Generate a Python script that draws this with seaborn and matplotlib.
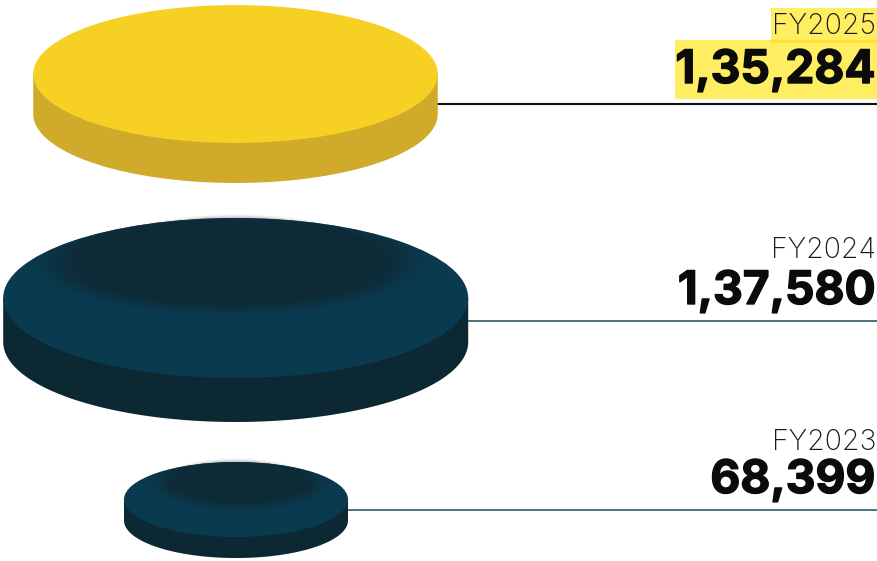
#!/usr/bin/env python3
import matplotlib

matplotlib.use("Agg")
import matplotlib.patheffects as pe
import matplotlib.pyplot as plt
import numpy as np
import pandas as pd
import seaborn as sns
from matplotlib.patches import Ellipse, Polygon, Rectangle

# data, top to bottom as in the picture
years = ["FY2025", "FY2024", "FY2023"]
values = [135284, 137580, 68399]
value_labels = ["1,35,284", "1,37,580", "68,399"]

# layout (pixels, y down)
WIDTH, HEIGHT = 877, 561
px_per_unit = [0.00299, 0.00338, 0.003275]
centre_x = [235.5, 235.7, 236.0]
centre_y = [74.0, 298.0, 499.5]
squash = [0.341, 0.344, 0.335]
thickness = [40, 44, 21]
line_y = [104, 321, 509.5]
line_widths = [1.5, 1.3, 1.3]
top_colors = ["#F7D024", "#0A3A50", "#0A3A50"]
side_colors = ["#CFAA2B", "#0B2833", "#0B2833"]
line_colors = ["#111111", "#3B6A73", "#3B6A73"]
# inner shading: x, y, rx, ry, blur
shades = [None, (230, 262, 178, 48, 16), (240, 481, 80, 26, 13)]
label_y = [26, 250, 442]
number_y = [71, 292, 481]


def soft_ellipse(ax, cx, cy, rx, ry, blur, color, clip=None, strength=1.0):
    xs = np.arange(cx - rx - blur * 2, cx + rx + blur * 2)
    ys = np.arange(cy - ry - blur * 2, cy + ry + blur * 2)
    xx, yy = np.meshgrid(xs, ys)
    dist = np.sqrt(((xx - cx) / rx) ** 2 + ((yy - cy) / ry) ** 2)
    edge = np.clip((1 - dist) * min(rx, ry) / blur + 0.5, 0, 1)
    rgba = np.zeros(xx.shape + (4,))
    rgba[..., :3] = matplotlib.colors.to_rgb(color)
    rgba[..., 3] = edge * edge * (3 - 2 * edge) * strength
    img = ax.imshow(
        rgba,
        extent=(xs[0], xs[-1], ys[-1], ys[0]),
        interpolation="bilinear",
        aspect="auto",
        zorder=3 if clip is not None else 0.5,
    )
    if clip is not None:
        img.set_clip_path(clip)


sns.set_theme(style="white")
plt.rcParams["font.family"] = ["Liberation Sans", "DejaVu Sans"]

fig = plt.figure(figsize=(WIDTH / 100, HEIGHT / 100), dpi=100)
ax = fig.add_axes([0, 0, 1, 1])

radii = [v * k / 2 for v, k in zip(values, px_per_unit)]

lines = pd.DataFrame(
    {
        "year": np.repeat(years, 2),
        "x": [p for cx, r in zip(centre_x, radii) for p in (cx + r - 2, WIDTH)],
        "y": np.repeat(line_y, 2),
    }
)
for i, year in enumerate(years):
    sns.lineplot(
        data=lines[lines["year"] == year],
        x="x",
        y="y",
        color=line_colors[i],
        linewidth=line_widths[i],
        ax=ax,
        zorder=1,
        legend=False,
    )

# highlight behind the FY2025 text
ax.add_patch(Rectangle((771, 8), 106, 34, color="#FFEE62", lw=0, zorder=1))
ax.add_patch(Rectangle((675, 40), 202, 59, color="#FFEE62", lw=0, zorder=1))
ax.add_patch(Rectangle((771, 40), 106, 2.5, color="#FFE02E", lw=0, zorder=1.1))

for i, year in enumerate(years):
    cx, cy, rx = centre_x[i], centre_y[i], radii[i]
    ry = rx * squash[i]
    t = np.linspace(0, np.pi, 200)
    arc = np.column_stack([cx + rx * np.cos(t), cy + thickness[i] + ry * np.sin(t)])
    body = np.vstack([[[cx + rx, cy]], arc, [[cx - rx, cy]]])
    ax.add_patch(Polygon(body, closed=True, color=side_colors[i], lw=0, zorder=2))
    top = Ellipse((cx, cy), rx * 2, ry * 2, color=top_colors[i], lw=0, zorder=2.5)
    ax.add_patch(top)
    if shades[i] is not None:
        sx, sy, srx, sry, blur = shades[i]
        soft_ellipse(ax, sx, sy, srx, sry, blur, "#0E2B37", clip=top)
        # faint glow on the paper just above the disc
        soft_ellipse(ax, cx, cy - 2, rx * 0.8, ry, 6, "#777777", strength=0.5)

    ax.text(876, label_y[i], year, ha="right", va="center", fontsize=20.5,
            color="#1a1a1a", zorder=5, fontfamily=["Inter", "Liberation Sans"], fontweight="light")
    num = ax.text(875.5, number_y[i], value_labels[i], ha="right", va="center", fontsize=33.2,
                  fontweight="bold", color="#0b0b0b", zorder=5, fontfamily=["Inter", "Liberation Sans"])
    # the original face is heavier than Inter Bold
    num.set_path_effects([pe.withStroke(linewidth=1.0, foreground="#0b0b0b")])

ax.set_xlim(0, WIDTH)
ax.set_ylim(HEIGHT, 0)
ax.set_xlabel("")
ax.set_ylabel("")
ax.axis("off")
fig.savefig("out.png", dpi=100)
